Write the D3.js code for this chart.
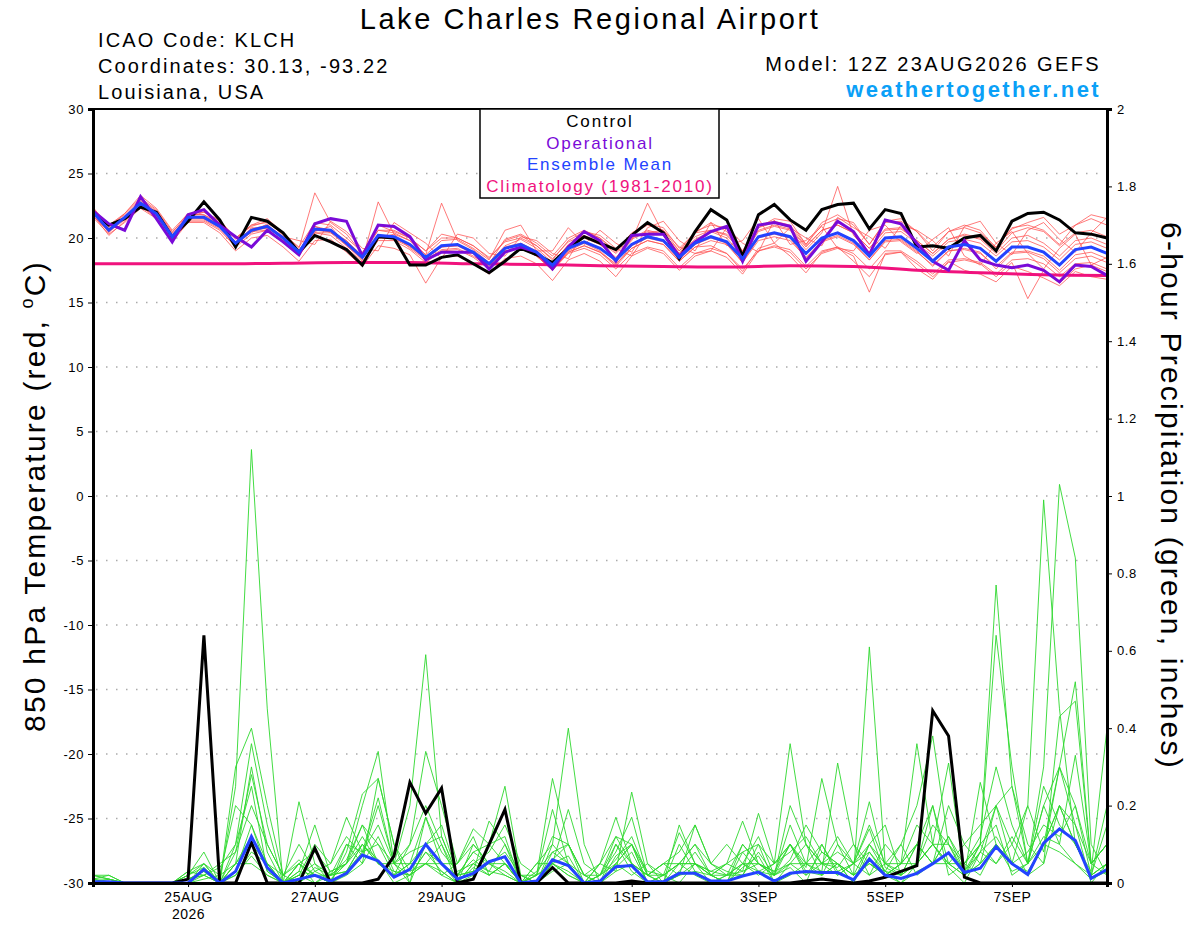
<!DOCTYPE html>
<html>
<head>
<meta charset="utf-8">
<script src="https://cdn.jsdelivr.net/npm/d3@7"></script>
<style>
  body { margin: 0; background: #fff; }
  svg { display: block; font-family: "Liberation Sans", Arial, Helvetica, sans-serif; }
</style>
</head>
<body>
<div id="chart"></div>
<script>
// forecast hours, 6-hourly from 12Z 23AUG2026
const hours = d3.range(0, 385, 6);
const climoHours = d3.range(0, 385, 24);

// x-axis tick dates and labels
const tickDates = ["2026-08-25", "2026-08-27", "2026-08-29", "2026-09-01", "2026-09-03", "2026-09-05", "2026-09-07"];
const tickLabels = ["25AUG", "27AUG", "29AUG", "1SEP", "3SEP", "5SEP", "7SEP"];

// 850 hPa temperature (C)
const climoT = [18.0, 18.0, 18.0, 18.05, 18.1, 18.1, 18.0, 17.95, 17.85, 17.8, 17.75, 17.85, 17.8, 17.5, 17.3, 17.15, 17.1];

const controlT = [
  22.0, 21.0, 21.5, 22.4, 22.0, 20.1, 21.3, 22.8, 21.4, 19.3, 21.6, 21.3, 20.4,
  18.9, 20.2, 19.7, 19.1, 17.9, 20.1, 20.0, 17.9, 17.9, 18.5, 18.7, 18.0, 17.3,
  18.2, 19.2, 18.7, 18.1, 19.2, 20.1, 19.6, 19.1, 20.2, 21.2, 20.4, 18.4, 20.5,
  22.2, 21.4, 18.6, 21.8, 22.6, 21.4, 20.6, 22.2, 22.6, 22.7, 20.7, 22.2, 21.9,
  19.3, 19.4, 19.2, 20.0, 20.2, 19.0, 21.3, 21.9, 22.0, 21.4, 20.4, 20.3, 20.0];

const operT = [
  22.1, 21.1, 20.6, 23.2, 21.5, 19.7, 21.8, 22.2, 21.0, 20.1, 19.3, 20.6, 19.7,
  18.7, 21.1, 21.5, 21.3, 18.6, 21.0, 20.9, 20.1, 18.3, 18.9, 18.9, 18.9, 17.6,
  18.9, 19.3, 18.9, 17.6, 19.3, 20.5, 19.8, 18.2, 20.2, 20.3, 20.3, 18.6, 19.7,
  20.5, 20.9, 18.2, 21.0, 21.2, 20.9, 18.2, 19.7, 21.3, 20.5, 18.7, 21.4, 21.1,
  19.6, 18.2, 17.5, 19.8, 18.3, 17.9, 17.7, 17.9, 17.5, 16.6, 17.9, 17.8, 17.1];

const meanT = [
  22.0, 20.6, 21.6, 22.7, 21.9, 20.1, 21.6, 21.6, 20.9, 19.6, 20.6, 20.9, 20.0,
  18.9, 20.7, 20.6, 19.6, 18.5, 20.2, 20.1, 19.5, 18.5, 19.4, 19.5, 18.9, 18.0,
  19.2, 19.5, 18.9, 17.9, 19.2, 19.7, 19.2, 18.3, 19.5, 20.1, 19.8, 18.5, 19.6,
  20.1, 19.7, 18.4, 20.1, 20.4, 20.1, 18.8, 20.0, 20.4, 19.8, 18.6, 20.0, 20.1,
  19.2, 18.2, 19.3, 19.5, 19.2, 18.2, 19.3, 19.3, 18.9, 17.9, 19.1, 19.3, 18.8];

const memberT = [
  [22.2, 20.9, 21.8, 23.0, 22.1, 20.4, 21.9, 21.8, 21.2, 19.9, 21.0, 21.5, 20.4,
   19.2, 23.5, 21.2, 20.3, 18.8, 21.0, 20.5, 20.0, 19.0, 20.3, 20.0, 19.4, 18.4,
   19.8, 20.2, 19.4, 18.3, 19.8, 20.5, 20.0, 18.9, 20.3, 21.0, 20.6, 19.0, 20.5,
   21.0, 20.8, 19.0, 21.0, 21.3, 21.0, 19.5, 21.0, 21.5, 21.2, 19.5, 21.3, 21.5,
   20.5, 19.0, 20.5, 21.0, 20.6, 19.2, 20.8, 21.0, 20.6, 19.5, 21.0, 21.5, 21.0],
  [21.8, 20.2, 21.3, 22.5, 21.5, 19.7, 21.2, 21.2, 20.4, 19.0, 20.0, 20.2, 19.3,
   18.2, 19.8, 19.9, 18.9, 17.8, 19.4, 19.2, 18.7, 16.5, 18.5, 18.6, 18.0, 17.2,
   18.4, 18.6, 18.0, 16.7, 18.3, 18.8, 18.2, 17.0, 18.6, 19.2, 18.8, 17.5, 18.6,
   19.0, 18.5, 17.2, 19.0, 19.3, 18.9, 17.6, 18.8, 19.2, 18.6, 15.8, 18.8, 18.9,
   18.0, 17.0, 18.1, 18.3, 18.0, 17.0, 18.1, 15.3, 17.5, 16.5, 17.6, 17.9, 17.4],
  [22.1, 20.7, 21.5, 22.8, 22.0, 20.3, 21.5, 21.7, 21.0, 19.5, 20.8, 20.7, 20.1,
   18.8, 20.5, 20.9, 19.4, 18.3, 22.8, 20.3, 19.8, 18.7, 22.7, 19.8, 19.1, 18.1,
   19.4, 19.9, 19.2, 18.1, 19.4, 20.0, 19.5, 18.5, 19.8, 22.7, 20.3, 18.8, 19.9,
   20.5, 20.0, 18.6, 20.5, 20.9, 20.6, 19.1, 20.4, 24.0, 20.2, 18.9, 20.4, 20.5,
   19.6, 18.6, 19.7, 19.9, 19.6, 18.6, 19.7, 19.8, 19.3, 18.3, 19.5, 19.7, 19.2],
  [21.9, 20.4, 21.7, 22.6, 21.8, 19.9, 21.7, 21.5, 20.8, 19.7, 20.4, 21.1, 19.8,
   18.7, 20.9, 20.4, 19.8, 18.6, 20.0, 20.3, 19.2, 18.3, 19.1, 19.2, 18.6, 17.8,
   19.0, 19.2, 18.6, 17.6, 18.9, 19.4, 18.9, 18.0, 19.2, 19.8, 19.5, 18.2, 19.3,
   19.4, 18.8, 17.4, 19.2, 19.6, 18.6, 17.3, 18.9, 19.3, 18.2, 17.0, 18.7, 18.9,
   17.6, 16.8, 18.2, 17.5, 17.2, 16.6, 17.8, 17.4, 16.9, 16.3, 17.4, 17.0, 16.8],
  [22.3, 21.0, 21.9, 23.3, 22.3, 20.6, 21.9, 22.0, 21.3, 20.0, 21.0, 21.2, 20.3,
   19.3, 21.2, 21.0, 20.0, 18.9, 20.6, 20.6, 20.0, 19.0, 20.0, 20.0, 19.4, 18.5,
   19.7, 20.0, 19.4, 18.4, 19.7, 20.2, 19.7, 18.8, 20.0, 20.6, 20.3, 19.0, 20.1,
   20.6, 20.2, 18.9, 20.6, 21.0, 20.7, 19.3, 20.6, 21.0, 20.4, 19.2, 20.6, 20.7,
   19.8, 18.8, 19.9, 20.2, 19.9, 18.8, 20.0, 20.2, 19.6, 18.6, 19.8, 20.0, 19.5],
  [21.7, 20.5, 21.4, 22.4, 21.7, 20.0, 21.4, 21.4, 20.7, 19.4, 20.5, 20.6, 19.8,
   18.7, 20.4, 20.4, 19.4, 18.4, 20.1, 19.9, 19.3, 18.4, 19.3, 19.4, 18.8, 17.9,
   19.3, 19.6, 19.0, 18.0, 19.5, 20.1, 19.5, 18.4, 19.9, 20.5, 20.3, 18.8, 20.4,
   21.2, 20.5, 18.9, 20.8, 21.5, 21.3, 19.5, 21.2, 21.8, 21.0, 19.5, 21.2, 21.3,
   20.5, 19.3, 20.5, 20.8, 20.4, 19.3, 20.7, 21.2, 21.6, 20.3, 21.0, 21.8, 21.5],
  [22.0, 20.6, 21.6, 22.7, 21.9, 20.1, 21.6, 21.6, 20.9, 19.6, 20.6, 20.9, 20.0,
   18.9, 20.7, 20.6, 19.6, 18.5, 20.2, 20.1, 19.5, 18.5, 19.4, 19.5, 18.9, 18.0,
   19.0, 19.2, 18.6, 17.5, 18.8, 19.2, 18.7, 17.6, 18.8, 19.3, 19.0, 17.7, 18.8,
   19.2, 18.8, 17.6, 19.0, 19.4, 19.1, 17.8, 19.0, 19.3, 18.8, 17.6, 19.0, 19.0,
   18.2, 17.2, 18.3, 18.4, 18.1, 17.2, 18.3, 18.4, 18.0, 17.0, 18.0, 18.1, 17.6],
  [22.4, 20.8, 21.9, 23.1, 22.2, 20.5, 21.6, 22.0, 21.4, 20.0, 20.9, 21.3, 20.2,
   19.0, 20.9, 20.6, 19.8, 18.6, 20.6, 20.4, 19.8, 18.7, 19.8, 19.9, 19.2, 18.3,
   20.6, 21.0, 19.0, 19.0, 20.8, 19.5, 20.6, 19.6, 18.9, 20.8, 21.3, 19.8, 19.0,
   21.2, 19.4, 19.8, 21.5, 19.6, 20.8, 20.0, 19.4, 21.6, 20.8, 20.1, 19.2, 21.0,
   20.6, 19.8, 18.6, 20.9, 21.3, 19.6, 18.7, 20.6, 21.2, 19.9, 18.9, 20.4, 21.6],
  [21.6, 20.3, 21.2, 22.3, 21.5, 19.8, 21.3, 21.3, 20.6, 19.3, 20.3, 20.6, 19.7,
   18.6, 20.4, 20.2, 19.2, 18.2, 19.8, 19.8, 19.1, 18.1, 19.0, 19.1, 18.5, 17.6,
   18.9, 19.3, 18.6, 17.5, 19.0, 19.6, 19.0, 17.9, 19.4, 20.0, 19.7, 18.3, 19.5,
   20.0, 19.6, 18.1, 20.0, 20.3, 20.0, 18.4, 19.8, 20.2, 19.6, 18.3, 19.8, 19.9,
   19.0, 17.8, 19.0, 19.2, 18.9, 17.6, 18.8, 18.9, 18.4, 17.3, 18.4, 18.6, 18.1],
  [22.2, 20.7, 21.6, 22.9, 22.0, 20.2, 21.8, 21.8, 21.0, 19.7, 20.7, 21.0, 20.1,
   19.8, 19.5, 21.3, 20.5, 19.2, 19.0, 21.2, 20.4, 19.6, 18.4, 20.3, 20.0, 18.8,
   18.6, 20.1, 19.8, 18.8, 18.4, 20.5, 20.2, 19.2, 18.6, 20.4, 20.6, 19.3, 18.8,
   19.0, 20.8, 19.6, 18.9, 21.4, 19.5, 19.8, 20.9, 19.2, 19.0, 20.6, 21.0, 19.7,
   18.8, 19.9, 20.8, 18.6, 17.9, 19.6, 20.5, 18.8, 17.6, 19.2, 20.3, 17.9, 18.5],
  [21.9, 20.5, 21.6, 22.6, 21.8, 20.0, 21.5, 21.6, 20.9, 19.5, 20.6, 20.8, 19.9,
   18.8, 20.6, 20.5, 19.5, 18.4, 20.1, 20.0, 19.4, 18.4, 19.4, 19.5, 18.9, 18.0,
   19.9, 20.3, 19.6, 18.6, 20.0, 20.6, 20.0, 19.0, 20.4, 21.1, 20.8, 19.2, 20.4,
   20.6, 20.3, 19.0, 20.8, 21.2, 20.8, 19.4, 20.6, 21.0, 20.4, 19.2, 20.7, 20.8,
   19.8, 18.8, 19.9, 20.3, 20.0, 19.0, 20.4, 20.8, 20.5, 19.4, 20.4, 20.6, 20.1],
  [22.0, 20.6, 21.5, 22.7, 21.9, 20.2, 21.6, 21.5, 20.9, 19.7, 20.5, 20.8, 20.0,
   18.9, 20.6, 20.5, 19.5, 18.5, 20.0, 20.0, 19.4, 18.4, 19.3, 19.4, 18.8, 17.9,
   18.9, 19.2, 18.7, 17.5, 18.9, 19.4, 18.9, 17.8, 19.2, 19.8, 19.5, 18.2, 19.3,
   19.8, 19.5, 18.1, 19.8, 20.1, 19.8, 18.5, 19.7, 20.1, 19.5, 18.3, 19.7, 19.8,
   18.9, 17.9, 19.0, 19.1, 18.8, 17.8, 18.9, 19.0, 18.6, 17.5, 18.7, 18.9, 18.4]
];

// 6-hour precipitation (inches)
const controlP = [
  0, 0, 0, 0, 0, 0, 0.01, 0.64, 0, 0, 0.105, 0, 0,
  0, 0.09, 0, 0, 0, 0.01, 0.07, 0.26, 0.18, 0.245, 0, 0.01, 0.1,
  0.19, 0, 0, 0.04, 0, 0, 0, 0, 0.005, 0, 0, 0, 0,
  0, 0, 0, 0, 0, 0, 0.005, 0.01, 0.005, 0, 0.005, 0.015, 0.03,
  0.045, 0.445, 0.38, 0.015, 0, 0, 0, 0, 0, 0, 0, 0, 0];

const meanP = [
  0.003, 0.003, 0, 0, 0, 0, 0, 0.035, 0, 0.03, 0.12, 0.04, 0,
  0.01, 0.02, 0.005, 0.025, 0.072, 0.057, 0.015, 0.035, 0.1, 0.05, 0.01, 0.025, 0.055,
  0.068, 0, 0.005, 0.06, 0.045, 0, 0.005, 0.042, 0.045, 0.003, 0.003, 0.025, 0.025,
  0.005, 0.005, 0.018, 0.028, 0.005, 0.025, 0.03, 0.027, 0.027, 0.008, 0.062, 0.02, 0.012,
  0.025, 0.05, 0.078, 0.027, 0.038, 0.094, 0.05, 0.022, 0.103, 0.14, 0.11, 0.012, 0.035];

const memberP = [
  [0.02, 0.01, 0, 0, 0, 0, 0.03, 0.05, 0, 0.25, 1.12, 0.45, 0,
   0.05, 0.02, 0, 0.03, 0.1, 0.06, 0, 0.02, 0.08, 0.03, 0, 0.04, 0.02,
   0.05, 0, 0, 0.06, 0.1, 0, 0, 0.04, 0.08, 0, 0, 0.05, 0.02,
   0, 0, 0.04, 0.07, 0, 0.05, 0.1, 0.02, 0.05, 0, 0.08, 0.03, 0,
   0.05, 0.1, 0.04, 0, 0.08, 0.2, 0.05, 0.02, 0.1, 0.2, 0.15, 0, 0.05],
  [0.01, 0.02, 0, 0, 0, 0, 0.02, 0.08, 0, 0.3, 0.4, 0.2, 0.02,
   0, 0.04, 0.02, 0.1, 0.05, 0.27, 0.1, 0, 0.17, 0.05, 0.02, 0.06, 0.03,
   0.1, 0, 0.02, 0.19, 0.05, 0, 0.02, 0.1, 0.03, 0, 0.02, 0.13, 0.05,
   0.02, 0, 0.08, 0.03, 0.02, 0.1, 0.04, 0.27, 0.1, 0.05, 0.21, 0.04, 0.02,
   0.1, 0.05, 0.12, 0.03, 0.1, 0.64, 0.3, 0.05, 0.12, 0.1, 0.33, 0.05, 0.1],
  [0.02, 0.01, 0, 0, 0, 0, 0.01, 0.02, 0.04, 0.1, 0.36, 0.15, 0,
   0.02, 0.1, 0.05, 0.17, 0.08, 0.1, 0.02, 0.05, 0.1, 0.02, 0, 0.02, 0.1,
   0.25, 0.02, 0, 0.05, 0.02, 0, 0.05, 0.03, 0.235, 0.05, 0, 0.02, 0.15,
   0.05, 0.02, 0.02, 0.1, 0, 0.02, 0.05, 0.03, 0.31, 0.1, 0.02, 0.05, 0.1,
   0.2, 0.38, 0.1, 0.05, 0.02, 0.1, 0.05, 0.2, 0.99, 0.45, 0.1, 0.02, 0.05],
  [0, 0, 0, 0, 0, 0, 0, 0.05, 0.02, 0.2, 0.15, 0.03, 0,
   0.21, 0.05, 0.02, 0.06, 0.15, 0.05, 0.05, 0.2, 0.59, 0.12, 0.02, 0.08, 0.05,
   0.03, 0, 0.05, 0.1, 0.4, 0.1, 0, 0.05, 0.02, 0.05, 0.02, 0, 0.05,
   0.03, 0.05, 0.16, 0.05, 0.02, 0.04, 0, 0.1, 0.02, 0.05, 0.02, 0.1, 0.05,
   0.36, 0.1, 0.05, 0.02, 0.05, 0.1, 0.03, 0.05, 0.3, 1.03, 0.84, 0.1, 0.02],
  [0.01, 0, 0, 0, 0, 0, 0.02, 0.04, 0, 0.05, 0.12, 0.05, 0,
   0.03, 0.15, 0.02, 0.05, 0.2, 0.34, 0.05, 0.1, 0.34, 0.2, 0.05, 0.14, 0.1,
   0.05, 0, 0.02, 0.27, 0.1, 0.02, 0.05, 0.17, 0.05, 0.02, 0, 0.1, 0.03,
   0.02, 0.05, 0.03, 0.18, 0.05, 0.36, 0.1, 0.05, 0.05, 0.02, 0.61, 0.05, 0.02,
   0.05, 0.1, 0.31, 0.02, 0.26, 0.1, 0.05, 0.02, 0.05, 0.43, 0.47, 0.05, 0.1],
  [0, 0.01, 0, 0, 0, 0, 0, 0.02, 0.05, 0.08, 0.2, 0.1, 0.02,
   0.06, 0.02, 0, 0.08, 0.23, 0.27, 0.1, 0.03, 0.05, 0.1, 0.02, 0.03, 0.16,
   0.1, 0.02, 0, 0.1, 0.05, 0, 0, 0.1, 0.05, 0.02, 0.05, 0.08, 0.15,
   0.05, 0.1, 0.05, 0.03, 0.05, 0.1, 0.02, 0.05, 0.04, 0.1, 0.05, 0.03, 0.02,
   0.1, 0.05, 0.12, 0.05, 0.1, 0.77, 0.25, 0.05, 0.1, 0.2, 0.1, 0.03, 0.4],
  [0, 0, 0, 0, 0, 0, 0.01, 0.03, 0, 0.02, 0.08, 0.05, 0.02,
   0.1, 0.03, 0.05, 0.12, 0.07, 0.2, 0.05, 0.05, 0.17, 0.08, 0.03, 0.05, 0.08,
   0.15, 0.05, 0.02, 0.05, 0.19, 0.05, 0.02, 0.08, 0.17, 0.02, 0.05, 0.05, 0.1,
   0.02, 0, 0.1, 0.05, 0.02, 0.2, 0.1, 0.05, 0.12, 0.05, 0.1, 0.03, 0.1,
   0.02, 0.05, 0.2, 0.1, 0.05, 0.2, 0.1, 0.02, 0.1, 0.3, 0.2, 0.05, 0.02],
  [0.02, 0.02, 0, 0, 0, 0, 0, 0.01, 0.02, 0.05, 0.05, 0.02, 0,
   0.02, 0, 0.02, 0.03, 0.1, 0.05, 0.02, 0.05, 0.05, 0.02, 0.05, 0.1, 0.05,
   0.02, 0, 0.05, 0.05, 0.02, 0, 0.05, 0.12, 0.1, 0, 0, 0.15, 0.05,
   0, 0.02, 0.05, 0.02, 0.05, 0.1, 0.03, 0.02, 0.05, 0, 0.1, 0.05, 0.03,
   0.05, 0.2, 0.02, 0.05, 0.1, 0.05, 0.12, 0.05, 0.2, 0.1, 0.05, 0.02, 0.2],
  [0, 0, 0, 0, 0, 0, 0.03, 0.02, 0, 0.1, 0.25, 0.03, 0,
   0.05, 0.08, 0.03, 0.05, 0.15, 0.1, 0.05, 0.02, 0.08, 0.05, 0.05, 0.12, 0.02,
   0.05, 0, 0.03, 0.08, 0.05, 0.02, 0, 0.07, 0.1, 0.03, 0.02, 0.05, 0.1,
   0.05, 0.03, 0.02, 0.08, 0.02, 0.15, 0.05, 0.1, 0.03, 0.05, 0.14, 0.02, 0.05,
   0.1, 0.05, 0.08, 0.02, 0.05, 0.1, 0.05, 0.08, 0.15, 0.12, 0.2, 0.02, 0.05],
  [0.01, 0, 0, 0, 0, 0, 0.02, 0.05, 0, 0.05, 0.3, 0.08, 0,
   0, 0.03, 0.01, 0.05, 0.12, 0.05, 0.02, 0.1, 0.2, 0.1, 0, 0.1, 0.05,
   0.05, 0.02, 0, 0.08, 0.1, 0.02, 0, 0.05, 0.1, 0.02, 0.05, 0.02, 0.05,
   0.02, 0.05, 0.08, 0.1, 0.05, 0.08, 0.12, 0.05, 0.02, 0.05, 0.08, 0.02, 0.05,
   0.15, 0.1, 0.1, 0.03, 0.08, 0.05, 0.1, 0.2, 0.08, 0.3, 0.15, 0.05, 0.1],
  [0, 0, 0, 0, 0, 0, 0, 0, 0, 0.02, 0.07, 0.02, 0,
   0.03, 0.02, 0, 0.02, 0.05, 0.12, 0.03, 0.02, 0.05, 0.03, 0, 0.05, 0.03,
   0.02, 0, 0, 0.05, 0.03, 0, 0, 0.03, 0.05, 0, 0, 0.02, 0.03,
   0, 0.02, 0.03, 0.05, 0.03, 0.05, 0.02, 0.08, 0.05, 0.02, 0.05, 0.02, 0,
   0.03, 0.05, 0.05, 0.02, 0.08, 0.12, 0.05, 0.03, 0.1, 0.08, 0.05, 0.01, 0.03],
  [0, 0, 0, 0, 0, 0, 0.01, 0.02, 0, 0.03, 0.15, 0.05, 0,
   0.02, 0.05, 0, 0.1, 0.08, 0.15, 0.05, 0, 0.1, 0.12, 0.02, 0.08, 0.1,
   0.12, 0, 0.02, 0.05, 0.07, 0, 0.02, 0.12, 0.05, 0.02, 0, 0.03, 0.08,
   0.02, 0, 0.05, 0.12, 0.02, 0.06, 0.15, 0.08, 0.05, 0.02, 0.1, 0.15, 0.02,
   0.05, 0.1, 0.05, 0.1, 0.15, 0.2, 0.25, 0.1, 0.05, 0.2, 0.1, 0.02, 0.15],
  [0, 0, 0, 0, 0, 0, 0, 0.04, 0, 0.05, 0.1, 0.05, 0,
   0.05, 0, 0.03, 0.05, 0.1, 0.05, 0.03, 0.02, 0.05, 0.05, 0, 0.05, 0.02,
   0.05, 0, 0, 0.03, 0.05, 0, 0.02, 0.05, 0.1, 0, 0.02, 0.05, 0.05,
   0.02, 0.02, 0.1, 0.05, 0.02, 0.05, 0.05, 0.02, 0.1, 0.02, 0.05, 0.02, 0.05,
   0.05, 0.15, 0.1, 0.02, 0.1, 0.15, 0.02, 0.05, 0.25, 0.15, 0.1, 0.02, 0.05],
  [0.01, 0.01, 0, 0, 0, 0, 0.01, 0.03, 0, 0.08, 0.28, 0.1, 0.02,
   0.05, 0.02, 0.02, 0.03, 0.08, 0.22, 0.05, 0.08, 0.1, 0.15, 0.02, 0.03, 0.05,
   0.08, 0.02, 0.02, 0.12, 0.1, 0.02, 0.02, 0.06, 0.12, 0.02, 0.02, 0.05, 0.05,
   0.03, 0.02, 0.05, 0.05, 0.03, 0.1, 0.05, 0.05, 0.08, 0.05, 0.15, 0.05, 0.05,
   0.1, 0.2, 0.05, 0.05, 0.12, 0.3, 0.15, 0.05, 0.2, 0.3, 0.52, 0.05, 0.1]
];

// sizing
const width = 1200,
  height = 927;
const plot = { left: 93, right: 1107, top: 109, bottom: 883 };

const svg = d3.select("#chart")
  .append("svg")
  .attr("width", width)
  .attr("height", height)
  .attr("viewBox", [0, 0, width, height]);

// scales
const start = new Date(Date.UTC(2026, 7, 23, 12));
const timeOf = h => new Date(start.getTime() + h * 3600e3);
const x = d3.scaleUtc()
  .domain([timeOf(0), timeOf(384)])
  .range([plot.left, plot.right]);
const yT = d3.scaleLinear().domain([-30, 30]).range([plot.bottom, plot.top]);
const yP = d3.scaleLinear().domain([0, 2]).range([plot.bottom, plot.top]);

// dotted grid lines
svg.append("g")
  .selectAll("line")
  .data(d3.range(-25, 30, 5))
  .join("line")
  .attr("x1", plot.left + 3)
  .attr("x2", plot.right - 3)
  .attr("y1", d => yT(d))
  .attr("y2", d => yT(d))
  .attr("stroke", "#aaa")
  .attr("stroke-width", 1.3)
  .attr("stroke-dasharray", "1.5,8.5");

const lineT = d3.line().x((d, i) => x(timeOf(hours[i]))).y(d => yT(d));
const lineP = d3.line().x((d, i) => x(timeOf(hours[i]))).y(d => yP(d));
const lineClimo = d3.line()
  .x((d, i) => x(timeOf(climoHours[i])))
  .y(d => yT(d))
  .curve(d3.curveMonotoneX);

// precipitation members
svg.append("g")
  .selectAll("path")
  .data(memberP)
  .join("path")
  .attr("d", lineP)
  .attr("fill", "none")
  .attr("stroke", "#2ed82e")
  .attr("stroke-width", 0.9);

// temperature members
svg.append("g")
  .selectAll("path")
  .data(memberT)
  .join("path")
  .attr("d", lineT)
  .attr("fill", "none")
  .attr("stroke", "#ff5050")
  .attr("stroke-width", 0.9)
  .attr("stroke-opacity", 0.85);

// climatology
svg.append("path")
  .attr("d", lineClimo(climoT))
  .attr("fill", "none")
  .attr("stroke", "#f0127d")
  .attr("stroke-width", 3);

// control, operational, mean
const heavy = [
  { data: controlT, line: lineT, color: "#000" },
  { data: operT, line: lineT, color: "#7a0ad8" },
  { data: meanT, line: lineT, color: "#2343ff" },
  { data: controlP, line: lineP, color: "#000" },
  { data: meanP, line: lineP, color: "#2343ff" }
];
svg.append("g")
  .selectAll("path")
  .data(heavy)
  .join("path")
  .attr("d", d => d.line(d.data))
  .attr("fill", "none")
  .attr("stroke", d => d.color)
  .attr("stroke-width", 3)
  .attr("stroke-linejoin", "miter");

// frame
svg.append("rect")
  .attr("x", plot.left)
  .attr("y", plot.top)
  .attr("width", plot.right - plot.left)
  .attr("height", plot.bottom - plot.top)
  .attr("fill", "none")
  .attr("stroke", "#000")
  .attr("stroke-width", 2);

// left axis
const axL = svg.append("g")
  .attr("transform", `translate(${plot.left},0)`)
  .call(d3.axisLeft(yT).tickValues(d3.range(-30, 31, 5)).tickSize(5).tickFormat(d => String(d)));
axL.select(".domain").attr("stroke-width", 3);
axL.selectAll("text").attr("font-size", 13).attr("font-family", "Liberation Sans, Arial, sans-serif")
  .attr("letter-spacing", 0.6).attr("x", -9);

// right axis
const axR = svg.append("g")
  .attr("transform", `translate(${plot.right},0)`)
  .call(d3.axisRight(yP).tickValues(d3.range(0, 11).map(d => d / 5)).tickSize(5).tickFormat(d => String(+d.toFixed(1))));
axR.select(".domain").attr("stroke-width", 3);
axR.selectAll("text").attr("font-size", 13).attr("font-family", "Liberation Sans, Arial, sans-serif")
  .attr("letter-spacing", 0.6).attr("x", 10);

// bottom axis
const axB = svg.append("g")
  .attr("transform", `translate(0,${plot.bottom})`)
  .call(d3.axisBottom(x)
    .tickValues(tickDates.map(d => new Date(d + "T00:00:00Z")))
    .tickSize(4)
    .tickFormat((d, i) => tickLabels[i]));
axB.select(".domain").attr("stroke-width", 3);
axB.selectAll("text").attr("font-size", 14).attr("font-family", "Liberation Sans, Arial, sans-serif")
  .attr("letter-spacing", 0.5).attr("dy", null).attr("y", 19);
axB.select(".tick text")
  .append("tspan").attr("x", 0).attr("dy", 17).text("2026");

// legend
const legend = svg.append("g");
legend.append("rect")
  .attr("x", 480)
  .attr("y", plot.top)
  .attr("width", 239)
  .attr("height", 89)
  .attr("fill", "#fff")
  .attr("stroke", "#000")
  .attr("stroke-width", 1.5);
const legendItems = [
  { label: "Control", color: "#000" },
  { label: "Operational", color: "#7a0ad8" },
  { label: "Ensemble Mean", color: "#2343ff" },
  { label: "Climatology (1981-2010)", color: "#f0127d" }
];
legend.selectAll("text")
  .data(legendItems)
  .join("text")
  .attr("x", 600)
  .attr("y", (d, i) => 127 + i * 21.5)
  .attr("text-anchor", "middle")
  .attr("font-size", 17)
  .attr("letter-spacing", 1.8)
  .attr("fill", d => d.color)
  .text(d => d.label);

// titles
svg.append("text")
  .attr("x", 590).attr("y", 29)
  .attr("text-anchor", "middle")
  .attr("font-size", 29)
  .attr("letter-spacing", 2.6)
  .text("Lake Charles Regional Airport");

const info = ["ICAO Code: KLCH", "Coordinates: 30.13, -93.22", "Louisiana, USA"];
svg.append("g")
  .selectAll("text")
  .data(info)
  .join("text")
  .attr("x", 98)
  .attr("y", (d, i) => 47 + i * 26)
  .attr("font-size", 20)
  .attr("letter-spacing", 2.1)
  .text(d => d);

svg.append("text")
  .attr("x", 1101).attr("y", 71)
  .attr("text-anchor", "end")
  .attr("font-size", 20)
  .attr("letter-spacing", 2.4)
  .text("Model: 12Z 23AUG2026 GEFS");

svg.append("text")
  .attr("x", 1101).attr("y", 97)
  .attr("text-anchor", "end")
  .attr("font-size", 22)
  .attr("font-weight", "bold")
  .attr("letter-spacing", 2.4)
  .attr("fill", "#0aa0f7")
  .text("weathertogether.net");

// axis titles
const leftTitle = svg.append("text")
  .attr("transform", `translate(45,${(plot.top + plot.bottom) / 2}) rotate(-90)`)
  .attr("text-anchor", "middle")
  .attr("font-size", 30)
  .attr("letter-spacing", 2.2);
leftTitle.append("tspan").text("850 hPa Temperature (red, ");
leftTitle.append("tspan").attr("font-size", 18).attr("dy", -12).text("o");
leftTitle.append("tspan").attr("dy", 12).text("C)");

svg.append("text")
  .attr("transform", `translate(1161,${(plot.top + plot.bottom) / 2}) rotate(90)`)
  .attr("text-anchor", "middle")
  .attr("font-size", 30)
  .attr("letter-spacing", 2.2)
  .text("6-hour Precipitation (green, inches)");
</script>
</body>
</html>
